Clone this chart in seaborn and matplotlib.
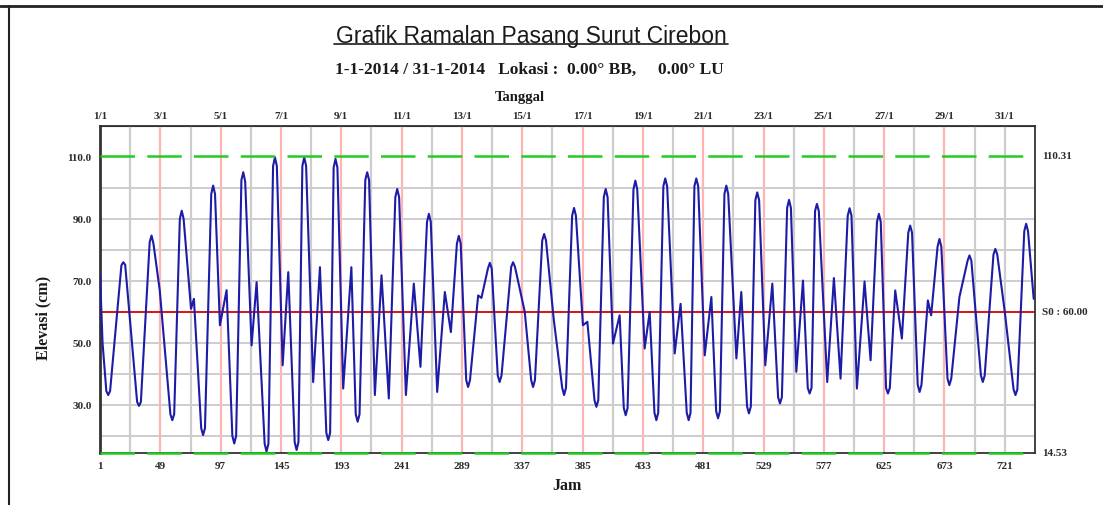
import numpy as np
import pandas as pd
import seaborn as sns
import matplotlib.pyplot as plt
from matplotlib.lines import Line2D

sns.set_style("white")

# Jam (hour) and elevasi (cm) (turning points and their shoulders)
jam = [1, 3, 6, 7.5, 9, 18, 19.5, 21, 30.5, 32, 33.5, 40.5, 42, 43.5, 48.5, 57, 58.5, 60,
       64.5, 66, 67.5, 73.4, 75.7, 81.5, 83, 84.5, 89.5, 91, 92.5, 96.4, 101.7,
       106.3, 107.8, 109.3, 113.5, 115, 116.5, 121.6, 125.6, 132, 133.5, 135,
       138.7, 140.2, 141.7, 146.3, 150.8, 155.9, 157.4, 158.9, 162, 163.5, 165,
       170.6, 176, 181.1, 182.6, 184.1, 186.9, 188.4, 189.9, 194.5, 201,
       204.5, 206, 207.5, 212.1, 213.6, 215.1, 219.7, 225, 230.8, 236, 237.5, 239,
       244.4, 250.7, 256, 261.2, 262.7, 264.2, 269.3, 275.4, 280.2, 285, 286.5, 288,
       292.4, 293.9, 295.4, 301.9, 304.5, 309.7, 311.2, 312.7, 317.5, 319, 320.5,
       328.2, 329.7, 331.2, 339, 344.1, 345.6, 347.1, 352.9, 354.4, 355.9, 362,
       368.8, 370.3, 371.8, 376.7, 378.2, 379.7, 385.3, 388.8, 394.5, 396, 397.5,
       401.9, 403.4, 404.9, 409.2, 414.5, 417.8, 419.3, 420.8, 425.5, 427, 428.5,
       434.4, 438.4, 442.2, 443.7, 445.2, 449.3, 450.8, 452.3, 458.3, 463,
       467.9, 469.4, 470.9, 474, 475.5, 477, 482.2, 487.5, 491.3, 492.8, 494.3,
       497.9, 499.4, 500.9, 507.4, 511.3, 515.9, 517.4, 518.9, 522.5, 524, 525.5,
       530.4, 536, 540.6, 542.1, 543.6, 547.8, 549.3, 550.8, 555.1, 560.4,
       564.2, 565.7, 567.2, 570, 571.5, 573, 579.7, 585, 590.3, 596, 597.5, 599,
       603.3, 609.4, 614.2, 619.3, 620.8, 622.3, 626.5, 628, 629.5, 633.8, 639.1,
       644.2, 645.7, 647.2, 651.7, 653.2, 654.7, 659.8, 662.4, 667.5, 669, 670.5,
       675.4, 676.9, 678.4, 684.9, 691.4, 692.9, 694.4, 702, 703.5, 705,
       712, 713.5, 715, 721, 728, 729.5, 731, 736.5, 738, 739.5, 744]
elevasi = [72, 50, 34.5, 33.2, 34.5, 75, 76.0, 75.2, 31, 29.7, 31, 82.5, 84.6, 82, 67, 27, 25.1, 27,
           90, 92.6, 90, 61, 64.2, 22.5, 20.3, 22.5, 98, 100.7, 98, 55.7, 67,
           20, 17.6, 20, 102.5, 105, 102, 49.2, 69.6, 17.5, 15.0, 17.5,
           107, 109.8, 107, 42.8, 72.8, 18, 15.5, 18, 107, 109.8, 107,
           37.4, 74.4, 21, 18.7, 21, 106.5, 109.3, 106.5, 35.3, 74.4,
           27, 24.6, 27, 102.5, 105, 102.5, 33.2, 71.8, 32.1, 97, 99.6, 97,
           33.2, 69.1, 42.3, 89, 91.6, 89, 34.2, 66.4, 53.5, 82, 84.5, 82,
           38, 35.8, 38, 65.3, 64.5, 74, 75.8, 74, 39.5, 37.4, 39.5,
           74.5, 76.0, 74.5, 60, 38, 35.8, 38, 83, 85.1, 83, 57.8,
           35.5, 33.2, 35.5, 91, 93.5, 91, 55.7, 56.8, 31.5, 29.4, 31.5,
           97, 99.6, 97, 49.8, 58.9, 29, 26.7, 29, 99.5, 102.3, 99.5,
           48.2, 60, 27.5, 25.1, 27.5, 100.5, 103.0, 100.5, 46.6, 62.6,
           27.5, 25.1, 27.5, 100.5, 103, 100.5, 46.0, 64.8, 28, 25.7, 28,
           98, 100.7, 98, 45, 66.4, 29.5, 27.3, 29.5, 96, 98.5, 96,
           42.8, 69.1, 32.5, 30.5, 32.5, 93.5, 96.1, 93.5, 40.7, 70.1,
           35.5, 33.7, 35.5, 92.5, 94.8, 92.5, 37.4, 70.9, 38.5, 91, 93.4, 91,
           35.3, 69.8, 44.4, 89, 91.6, 89, 35.5, 33.7, 35.5, 66.9, 51.4,
           85.5, 87.8, 85.5, 36.5, 34.2, 36.5, 63.7, 58.9, 81, 83.5, 81,
           38.5, 36.4, 38.5, 64.8, 76.5, 78.2, 76.5, 39.5, 37.4, 39.5,
           78.5, 80.3, 78.5, 60, 35, 33.2, 35, 86, 88.4, 86, 64.2]

jam_ticks = [1, 49, 97, 145, 193, 241, 289, 337, 385, 433, 481, 529, 577, 625, 673, 721]
tanggal_labels = ["1/1", "3/1", "5/1", "7/1", "9/1", "11/1", "13/1", "15/1", "17/1", "19/1",
                  "21/1", "23/1", "25/1", "27/1", "29/1", "31/1"]
elev_ticks = [30, 50, 70, 90, 110]
muka_max = 110.31
muka_min = 14.53
msl = 60.00

df = pd.DataFrame({"Jam": jam, "Elevasi": elevasi})

fig = plt.figure(figsize=(11.03, 5.06), dpi=100)
ax = fig.add_axes([0.0907, 0.1028, 0.8476, 0.6462])

serif = "Liberation Serif"
txtc = "#2b2b2b"
ytop = 119.9

# grid
for h in range(25, 745, 24):
    if (h - 1) % 48 == 0 and h < 700:
        ax.axvline(h, color="#ffb4b4", lw=1.6, zorder=1)
    else:
        ax.axvline(h, color="#cdcdcd", lw=1.6, zorder=1)
for v in range(20, 110, 10):
    if v != 60:
        ax.axhline(v, color="#cdcdcd", lw=1.4, zorder=1)
ax.axhline(msl, color="#d80000", lw=1.3, zorder=2)
for v in [muka_max, muka_min]:
    ax.axhline(v, color="#22cc22", lw=1.8, dashes=(13.8, 4.9), zorder=4, clip_on=False)

sns.lineplot(data=df, x="Jam", y="Elevasi", ax=ax, color="#1c1ca6", lw=1.5, zorder=3)

ax.set_xlim(1, 745)
ax.set_ylim(muka_min, ytop)
ax.set_xlabel("")
ax.set_ylabel("")
ax.set_xticks(jam_ticks)
ax.set_xticklabels([str(t) for t in jam_ticks])
ax.set_yticks(elev_ticks)
ax.set_yticklabels([f"{t:.1f}" for t in elev_ticks])
ax.set_yticks(np.arange(15, 120, 10), minor=True)
ax.tick_params(axis="both", which="major", length=0, labelsize=8, colors=txtc, pad=6)
ax.tick_params(axis="y", which="minor", direction="in", length=4, color="#aaaaaa")
for lab in ax.get_xticklabels() + ax.get_yticklabels():
    lab.set_fontfamily(serif)
    lab.set_fontweight("bold")

top = ax.secondary_xaxis("top")
top.set_xticks(jam_ticks)
top.set_xticklabels(tanggal_labels)
top.tick_params(length=0, labelsize=8, colors=txtc, pad=4)
for lab in top.get_xticklabels():
    lab.set_fontfamily(serif)
    lab.set_fontweight("bold")

for s in ax.spines.values():
    s.set_color("#333333")
    s.set_linewidth(1.3)
ax.spines["left"].set_linewidth(2)

# right side labels
for v, t in [(muka_max, "110.31"), (msl, "S0 : 60.00"), (muka_min, "14.53")]:
    ax.text(1.008, (v - muka_min) / (ytop - muka_min), t, transform=ax.transAxes,
            ha="left", va="center", fontsize=8, fontfamily=serif,
            fontweight="bold", color=txtc)

fig.text(531 / 1103, 1 - 36 / 506, "Grafik Ramalan Pasang Surut Cirebon", ha="center",
         va="center", fontsize=16.5, fontfamily="Liberation Sans", color="#1a1a1a")
fig.add_artist(Line2D([334 / 1103, 728 / 1103], [1 - 45 / 506, 1 - 45 / 506],
                      color="#1a1a1a", lw=1.2, transform=fig.transFigure))
fig.text(529 / 1103, 1 - 70 / 506,
         "1-1-2014 / 31-1-2014   Lokasi :  0.00° BB,     0.00° LU",
         ha="center", va="center", fontsize=12.5, fontfamily=serif,
         fontweight="bold", color="#1a1a1a")
fig.text(520 / 1103, 1 - 97 / 506, "Tanggal", ha="center", va="center",
         fontsize=10.5, fontfamily=serif, fontweight="bold", color="#1a1a1a")
fig.text(567 / 1103, 1 - 486 / 506, "Jam", ha="center", va="center",
         fontsize=11.5, fontfamily=serif, fontweight="bold", color="#1a1a1a")
fig.text(43 / 1103, 1 - 318 / 506, "Elevasi (cm)", ha="center", va="center",
         rotation=90, fontsize=11.5, fontfamily=serif, fontweight="bold", color="#1a1a1a")

# page frame
fig.add_artist(Line2D([0, 1], [1 - 7 / 506, 1 - 7 / 506], color="#222222", lw=2,
                      transform=fig.transFigure))
fig.add_artist(Line2D([9 / 1103, 9 / 1103], [0, 1 - 7 / 506], color="#222222", lw=1.5,
                      transform=fig.transFigure))

fig.savefig("out.png", dpi=100)
